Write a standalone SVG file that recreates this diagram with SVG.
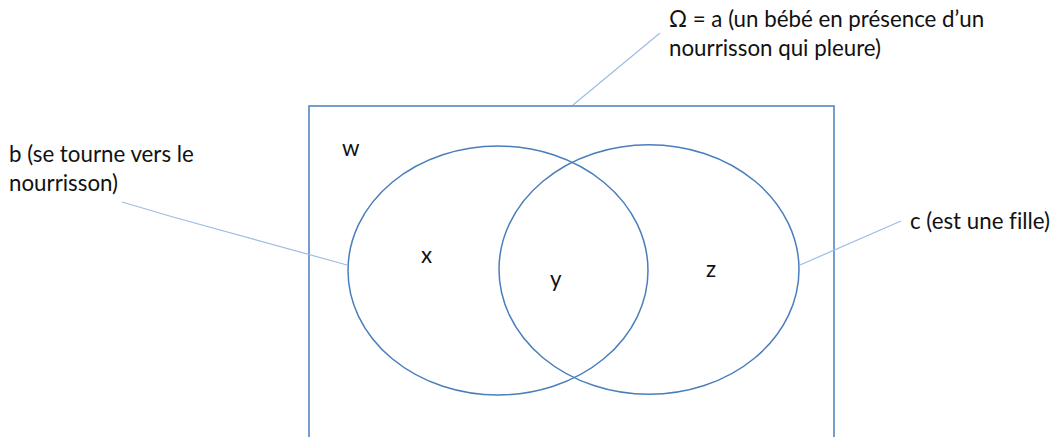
<svg xmlns="http://www.w3.org/2000/svg" width="1057" height="437" viewBox="0 0 1057 437">
<style>
.shape{fill:none;stroke:#4a7ebb;stroke-width:1.5}
.lead{fill:none;stroke:#9cbde3;stroke-width:1.2}
text{font-family:Lato,"Open Sans","Liberation Sans",sans-serif;font-size:22.3px;fill:#111;font-variant-ligatures:none}
</style>
<rect width="1057" height="437" fill="#fff"/>
<g id="omega">
<rect class="shape" x="309" y="106" width="525" height="340"/>
<text x="342" y="156">w</text>
</g>
<g id="b">
<ellipse class="shape" cx="498" cy="270.5" rx="150" ry="124.5"/>
<text x="421" y="263">x</text>
</g>
<g id="c">
<ellipse class="shape" cx="649" cy="269.5" rx="150" ry="124.8"/>
<text x="706" y="277">z</text>
</g>
<g id="intersection">
<text x="550" y="287">y</text>
</g>
<g id="labels">
<text x="669" y="27">Ω = a (un bébé en présence d’un</text>
<text x="669" y="56">nourrisson qui pleure)</text>
<text x="9" y="162">b (se tourne vers le</text>
<text x="9" y="191">nourrisson)</text>
<text x="910" y="229">c (est une fille)</text>
</g>
<g id="connectors">
<line class="lead" x1="573" y1="105" x2="660" y2="33"/>
<polyline class="lead" points="122,202 173,217 347,265"/>
<line class="lead" x1="800" y1="265" x2="901" y2="221"/>
</g>
</svg>
